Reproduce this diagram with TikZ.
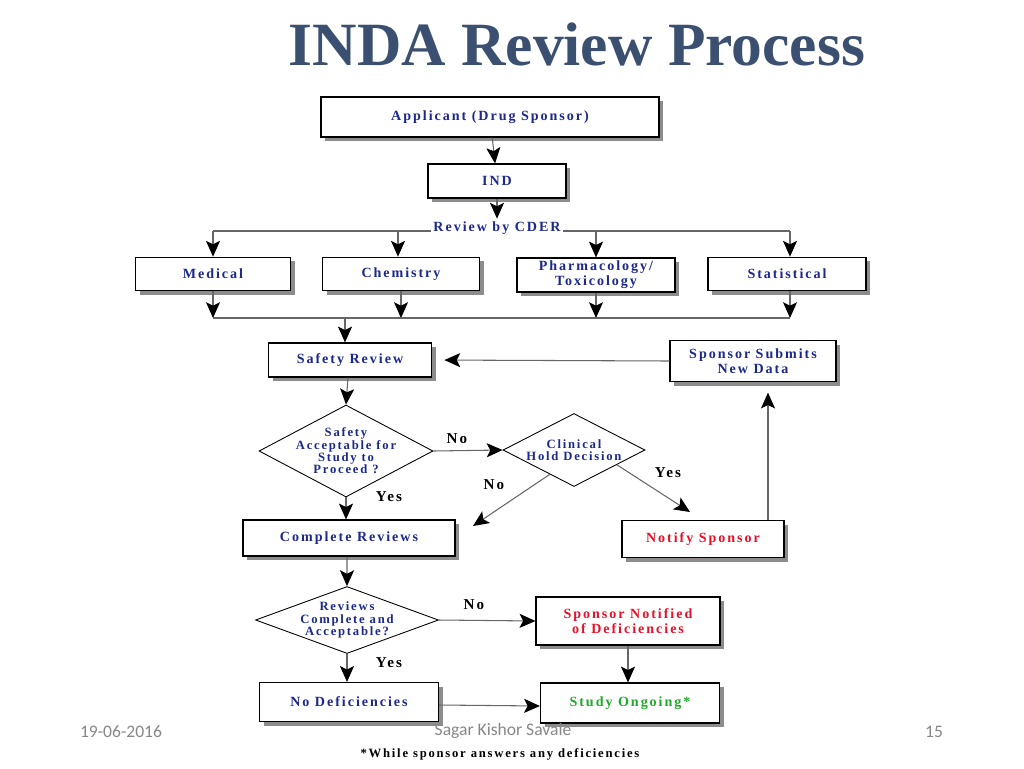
\documentclass[tikz,border=0pt]{standalone}
\usepackage{fontspec}
\setmainfont{Liberation Serif}
\newfontfamily\boxfont[LetterSpace=14]{Liberation Serif}
\newfontfamily\footfont{Carlito}
\usetikzlibrary{arrows.meta,shapes.geometric,shadows,calc}
\definecolor{titleblue}{RGB}{59,80,112}
\definecolor{navy}{RGB}{28,40,140}
\definecolor{alertred}{RGB}{232,16,42}
\definecolor{okgreen}{RGB}{30,170,40}
\definecolor{footgray}{RGB}{135,135,135}

\begin{document}
\begin{tikzpicture}[x=0.02cm, y=-0.02cm,
  box/.style={draw, line width=0.7pt, fill=white, inner sep=1pt, align=center,
    text=navy, font=\boxfont\bfseries\fontsize{8}{8.6}\selectfont,
    drop shadow={shadow xshift=2.3pt, shadow yshift=-2.3pt, fill=black!45, opacity=1}},
  decision/.style={draw, diamond, line width=0.5pt, fill=white, inner sep=0pt},
  dtext/.style={align=center, text=navy, inner sep=0pt,
    font=\boxfont\bfseries\fontsize{7.2}{7}\selectfont},
  conn/.style={draw=black!60, line width=0.6pt},
  arr/.style={conn, -{Stealth[length=9pt, width=8pt, inset=2pt, color=black]}},
  answer/.style={font=\boxfont\bfseries\fontsize{8.6}{10}\selectfont}]
\useasboundingbox (0,0) rectangle (1024,768);

\node[font=\bfseries\fontsize{35}{40}\selectfont, text=titleblue] (title) at (577,44) {INDA Review Process};

% top of the chart
\node[box, minimum width=6.76cm, minimum height=0.8cm] (App) at (490,117) {Applicant (Drug Sponsor)};
\node[box, minimum width=2.76cm, minimum height=0.68cm] (IND) at (497,181) {IND};
\node[box, minimum width=3.1cm, minimum height=0.67cm] (Med) at (213,274) {Medical};
\node[box, minimum width=3.14cm, minimum height=0.67cm] (Chem) at (401,274) {Chemistry};
\node[box, minimum width=3.16cm, minimum height=0.68cm] (Pharm) at (596,275) {Pharmacology/\\Toxicology};
\node[box, minimum width=3.16cm, minimum height=0.67cm] (Stat) at (787,274) {Statistical};

\coordinate (busA) at (497,231);
\coordinate (busB) at (345,318);
\draw[conn] (Med.north |- busA) -- ([xshift=0.06cm]Stat.north |- busA);
\node[fill=white, inner sep=1.5pt, text=navy, font=\boxfont\bfseries\fontsize{8}{8.6}\selectfont] (CDER) at (497,228) {Review by CDER};

\draw[arr] (App) -- (IND);
\draw[arr] (IND) -- (CDER);
\draw[arr] (Med.north |- busA) -- (Med.north);
\draw[arr] ([xshift=-0.06cm]Chem.north |- busA) -- ([xshift=-0.06cm]Chem.north);
\draw[arr] (Pharm.north |- busA) -- (Pharm.north);
\draw[arr] ([xshift=0.06cm]Stat.north |- busA) -- ([xshift=0.06cm]Stat.north);

\draw[arr] (Med.south) -- (Med.south |- busB);
\draw[arr] (Chem.south) -- (Chem.south |- busB);
\draw[arr] (Pharm.south) -- (Pharm.south |- busB);
\draw[arr] ([xshift=0.06cm]Stat.south) -- ([xshift=0.06cm]Stat.south |- busB);
\draw[conn] (Med.south |- busB) -- ([xshift=0.06cm]Stat.south |- busB);

% safety part
\node[box, minimum width=3.26cm, minimum height=0.68cm] (Safe) at (350,360) {Safety Review};
\node[box, minimum width=3.32cm, minimum height=0.82cm] (SubN) at (753,361) {Sponsor Submits\\New Data};
\node[decision, minimum width=3.48cm, minimum height=1.84cm,
  label={[dtext]center:Safety\\Acceptable for\\Study to\\Proceed ?}] (D1) at (346,451) {};
\node[decision, minimum width=2.84cm, minimum height=1.46cm,
  label={[dtext]center:Clinical\\Hold Decision}] (D2) at (574,450) {};
\node[box, minimum width=4.24cm, minimum height=0.72cm] (Comp) at (349,538) {Complete Reviews};
\node[box, minimum width=3.24cm, minimum height=0.74cm, text=alertred] (Notify) at (703,539) {Notify Sponsor};

\draw[arr] (busB) -- (busB |- Safe.north);
\draw[arr, shorten >=7pt] (SubN.west) -- (Safe.east);
\draw[arr] ([xshift=-0.04cm]Safe.south) -- (D1.north);
\draw[arr] (D1.east) -- (D2.west);
\draw[arr] (D1.south) -- (D1.south |- Comp.north);
\coordinate (holdNo) at (473,526);
\coordinate (holdYes) at (690,512);
\draw[arr] ($(D2.west)!0.66!(D2.south)$) -- (holdNo);
\draw[arr] ($(D2.south)!0.6!(D2.east)$) -- (holdYes);
\draw[arr, shorten >=6pt] ([xshift=1.3cm]Notify.north) -- ([xshift=1.3cm]Notify.north |- SubN.south);

\node[answer] (no1) at (457,439) {No};
\node[answer] (yes1) at (389,497) {Yes};
\node[answer] (no2) at (494,485) {No};
\node[answer] (yes2) at (668,473) {Yes};

% last part
\node[decision, minimum width=3.66cm, minimum height=1.34cm,
  label={[dtext]center:Reviews\\Complete and\\Acceptable?}] (D3) at (347,620) {};
\node[box, minimum width=3.68cm, minimum height=0.96cm, text=alertred] (SNot) at (628,621) {Sponsor Notified\\of Deficiencies};
\node[box, minimum width=3.58cm, minimum height=0.78cm] (NoDef) at (349,702) {No Deficiencies};
\node[box, minimum width=3.58cm, minimum height=0.8cm, text=okgreen] (Ongo) at (630,703) {Study Ongoing*};

\draw[arr] ([xshift=-0.04cm]Comp.south) -- (D3.north);
\draw[arr] (D3.east) -- (SNot.west);
\draw[arr] (D3.south) -- (D3.south |- NoDef.north);
\draw[arr] (SNot.south) -- (SNot.south |- Ongo.north);
\draw[arr] ([yshift=-0.06cm]NoDef.east) -- ([yshift=-0.06cm]Ongo.west);

\node[answer] (no3) at (474,605) {No};
\node[answer] (yes3) at (389,663) {Yes};

\node[font=\boxfont\bfseries\fontsize{7.2}{8}\selectfont] (note) at (500,754) {*While sponsor answers any deficiencies};

% footer
\node[font=\footfont\fontsize{10}{11}\selectfont, text=footgray] (date) at (121,732) {19-06-2016};
\node[font=\footfont\fontsize{10}{11}\selectfont, text=footgray] (author) at (503,731) {Sagar Kishor Savale};
\node[font=\footfont\fontsize{10}{11}\selectfont, text=footgray] (page) at (934,732) {15};
\end{tikzpicture}
\end{document}
